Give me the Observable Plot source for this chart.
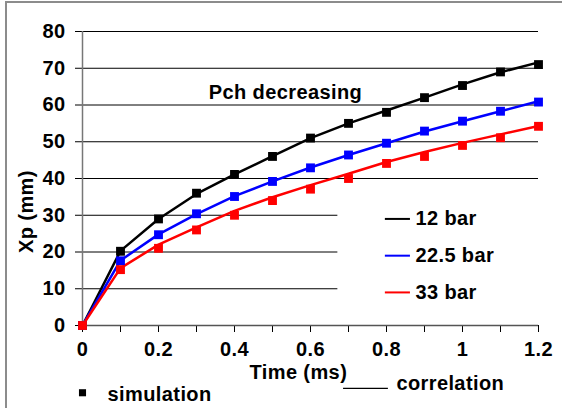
<!DOCTYPE html>
<html><head><meta charset="utf-8">
<script src="https://cdn.jsdelivr.net/npm/d3@7"></script>
<script src="https://cdn.jsdelivr.net/npm/@observablehq/plot@0.6"></script>
<style>
body{margin:0;background:#fff;}
#wrap{position:relative;width:562px;height:408px;overflow:hidden;}
#border{position:absolute;left:5px;top:1px;right:-10px;bottom:-10px;border-top:2px solid #8c8c8c;border-left:2px solid #8c8c8c;pointer-events:none;}
svg{font-family:"Liberation Sans",Arial,sans-serif;}
svg text{letter-spacing:0.4px;}
</style></head><body><div id="wrap"><div id="border"></div></div>
<script>
const time = [0, 0.1, 0.2, 0.3, 0.4, 0.5, 0.6, 0.7, 0.8, 0.9, 1.0, 1.1, 1.2];
const seriesNames = ["12 bar", "22.5 bar", "33 bar"];
const seriesColors = ["#000000", "#0000ff", "#ff0000"];
// simulation (markers)
const sim12  = [0, 20.2, 29.0, 36.0, 41.1, 46.0, 51.0, 55.0, 58.0, 62.0, 65.3, 69.0, 71.0];
const sim225 = [0, 17.6, 24.7, 30.4, 35.1, 39.2, 42.9, 46.4, 49.6, 52.9, 55.6, 58.3, 60.8];
const sim33  = [0, 15.2, 21.0, 26.0, 30.0, 34.0, 37.1, 40.0, 44.1, 46.0, 49.0, 51.1, 54.2];
// correlation (lines)
const cor12  = [0, 20.3, 29.0, 35.8, 41.1, 46.1, 51.0, 55.0, 58.5, 62.0, 65.6, 68.9, 71.6];
const cor225 = [0, 17.7, 24.8, 30.3, 35.2, 39.2, 43.0, 46.4, 49.6, 52.8, 55.6, 58.3, 61.0];
const cor33  = [0, 15.6, 22.0, 26.7, 31.2, 34.9, 38.2, 41.3, 44.5, 47.2, 49.7, 52.0, 54.3];
const yTicks = [0, 10, 20, 30, 40, 50, 60, 70, 80];
const xTicks = [0, 0.1, 0.2, 0.3, 0.4, 0.5, 0.6, 0.7, 0.8, 0.9, 1.0, 1.1, 1.2];
const xTickLabels = ["0", "", "0.2", "", "0.4", "", "0.6", "", "0.8", "", "1", "", "1.2"];
const gridFull = [40, 50, 60, 70, 80];
const gridShort = [10, 20, 30];
const legendY = [29, 19, 9];

const simSets = [sim12, sim225, sim33];
const corSets = [cor12, cor225, cor33];
const simTable = seriesNames.flatMap((s, k) => time.map((t, i) => ({series: s, t, v: simSets[k][i]})));
const corTable = seriesNames.flatMap((s, k) => time.map((t, i) => ({series: s, t, v: corSets[k][i]})));
const legendTable = seriesNames.map((s, k) => ({series: s, y: legendY[k]}));
const shortGrid = gridShort.map(y => ({y}));

const bold = {fontWeight: "bold", fontSize: 20, fill: "#000"};

const chart = Plot.plot({
  width: 562, height: 408,
  marginLeft: 82, marginRight: 24, marginTop: 31, marginBottom: 83,
  x: {domain: [0, 1.2]},
  y: {domain: [0, 80]},
  color: {domain: seriesNames, range: seriesColors},
  style: {fontFamily: "Liberation Sans, Arial, sans-serif", background: "transparent"},
  marks: [
    Plot.ruleY(gridFull, {stroke: "#000", strokeWidth: 1}),
    Plot.ruleY(shortGrid, {y: "y", x1: () => 0, x2: () => 0.672, stroke: "#000", strokeWidth: 1}),
    Plot.axisY({ticks: yTicks, tickSize: 7, tickPadding: 10, label: null, fontSize: 20, fontWeight: "bold", stroke: "#000"}),
    Plot.axisX({ticks: xTicks, tickSize: 7, tickPadding: 9, label: null, fontSize: 20, fontWeight: "bold",
      tickFormat: d => xTickLabels[Math.round(d * 10)]}),
    Plot.ruleX([0], {stroke: "#777", strokeWidth: 1.5}),
    Plot.ruleY([0], {stroke: "#555", strokeWidth: 1.5}),
    Plot.line(corTable, {x: "t", y: "v", z: "series", stroke: "series", strokeWidth: 2.5}),
    Plot.dot(simTable, {x: "t", y: "v", fill: "series", symbol: "square", r: 5, stroke: null}),
    // legend for pressures
    Plot.ruleY(legendTable, {y: "y", x1: () => 0.797, x2: () => 0.863, stroke: "series", strokeWidth: 2}),
    Plot.text(legendTable, {y: "y", x: () => 0.876, text: "series", textAnchor: "start", ...bold}),
    // annotations
    Plot.text(["Pch decreasing"], {x: () => 0.534, y: () => 63.4, text: d => d, ...bold}),
    Plot.text(["Xp (mm)"], {x: () => -0.148, y: () => 31, text: d => d, rotate: -90, ...bold}),
    Plot.text(["Time (ms)"], {x: () => 0.568, y: () => -12.8, text: d => d, ...bold}),
    Plot.dot(["simulation"], {x: () => 0.0, y: () => -18.3, symbol: "square", r: 4, fill: "#000"}),
    Plot.text(["simulation"], {x: () => 0.066, y: () => -18.9, text: d => d, textAnchor: "start", ...bold}),
    Plot.ruleY(["correlation"], {y: () => -17.1, x1: () => 0.687, x2: () => 0.805, stroke: "#000", strokeWidth: 1.2}),
    Plot.text(["correlation"], {x: () => 0.826, y: () => -15.8, text: d => d, textAnchor: "start", ...bold})
  ]
});
document.getElementById("wrap").prepend(chart);
</script>
</body></html>
